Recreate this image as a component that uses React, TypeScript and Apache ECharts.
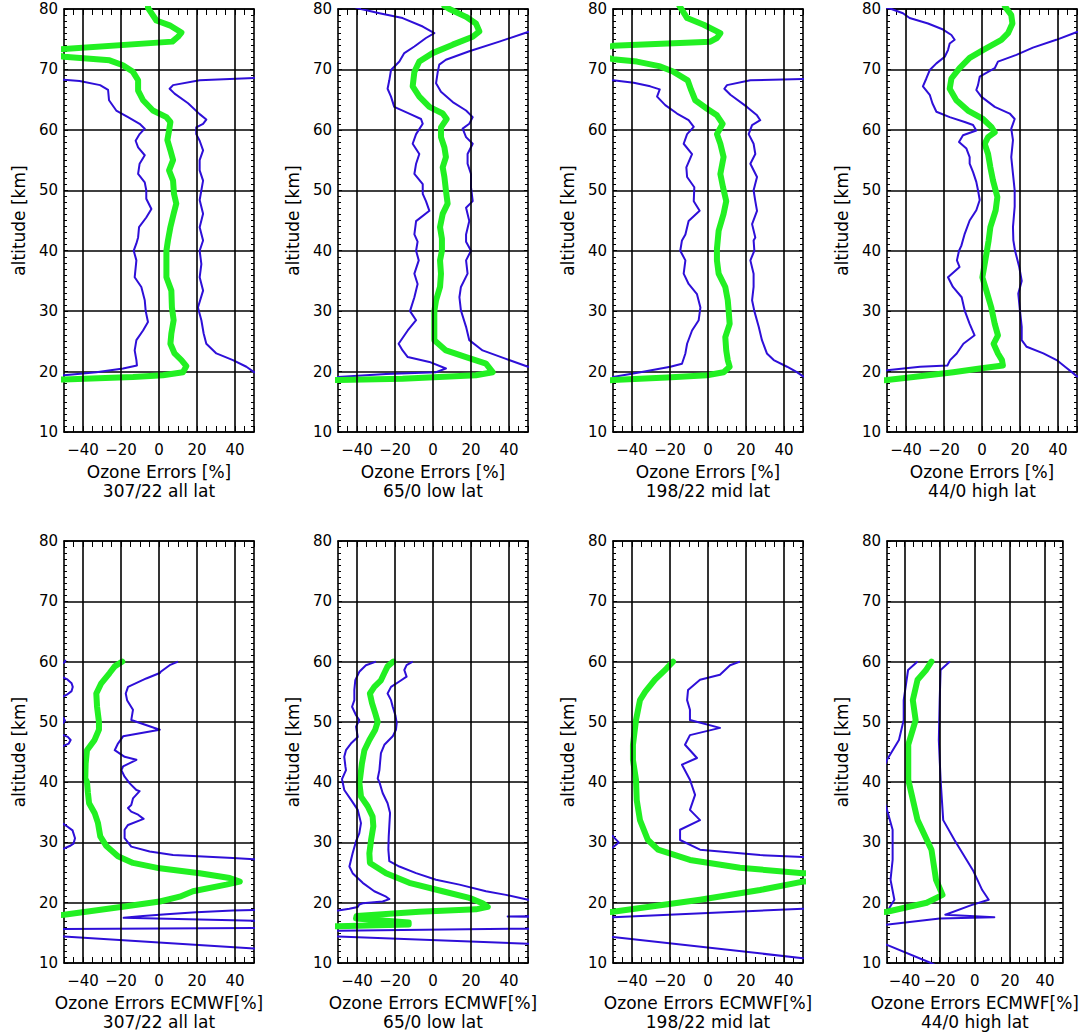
import React, { useEffect, useRef } from "react";
import * as echarts from "echarts";

// ---- axis labels / titles ----
const PANEL_TITLES = ["307/22 all lat", "65/0 low lat", "198/22 mid lat", "44/0 high lat"];
const TOP_XNAME = "Ozone Errors [%]";
const BOTTOM_XNAME = "Ozone Errors ECMWF[%]";
const Y_NAME = "altitude [km]";
const X_LABELS = [-40, -20, 0, 20, 40];
const X_GRID = [-40, -20, 0, 20, 40];

// ---- profiles: [error %, altitude km] ----
// Top row: retrieval errors
const allLatGreen = [[-5.8,80.4],[-5.8,80.2],[-1.4,78.1],[5.6,77.3],[11.8,76.1],[10,75.4],[7,74.6],[-50,73.4],[-65,73.0],[-50,72.1],[-26,71.5],[-19,70.7],[-13.7,69.6],[-11,68.2],[-11,66.5],[-8.4,64.9],[-3.2,63.2],[3.9,62.1],[6,61.3],[5.3,59.9],[4.4,58.3],[6,56.6],[7.4,55],[5.3,53.3],[7.4,51.6],[7.9,49.4],[9.1,47.8],[7.7,46.1],[6,43.9],[4.7,41.7],[3.9,40],[3.9,38.4],[3.9,35.6],[6.5,33.4],[6.8,30.6],[7.7,28.5],[6.5,26.3],[6,24.6],[8.2,23],[11.8,21.9],[14.4,20.9],[12.6,19.9],[2.1,19.4],[-13.7,19.1],[-50,18.7],[-70,18.5]];
const allLatBlueLo = [[-60,68.5],[-50,68.3],[-41.8,68.1],[-31,67.4],[-26.8,66.6],[-26.3,64.9],[-22.5,63.2],[-16.3,62.1],[-10.2,61],[-7.5,60.2],[-10.2,59.3],[-12.3,58.2],[-11,57.1],[-7.5,55.8],[-10.2,54.4],[-11,52.7],[-7.5,51.3],[-6.7,50],[-6.7,48.6],[-4,46.9],[-6.7,45.5],[-10.5,43.9],[-11,42.2],[-11.9,41.2],[-13.3,40],[-11.9,38.4],[-12.8,35.6],[-9.3,34],[-7.5,31.8],[-7,30],[-5.8,28.2],[-8.4,26.8],[-11.9,25.2],[-12.8,23.5],[-11.9,21.9],[-11.6,21],[-18.9,20.5],[-33,19.9],[-50,19.4],[-60,19.2]];
const allLatBlueHi = [[60,68.7],[50,68.6],[21.4,68.2],[7.4,67.4],[5.6,66.8],[8.2,66],[15.3,64.4],[21.4,62.6],[24.9,61.7],[23.2,61],[19.6,60.4],[19.6,59.3],[21.4,58.2],[23.2,56.6],[21.4,55],[21.4,53.3],[23.2,51.6],[22.3,50],[21.4,48.4],[23.2,46.1],[21.4,43.9],[23.2,41.7],[21.4,40],[22.3,37.8],[21.4,35.6],[23.2,33.4],[20.5,30.6],[22.3,28.5],[23.5,26.3],[24.9,24.6],[30.2,23],[38.9,21.9],[46,20.8],[50,19.9],[60,19.5]];

const lowLatBlueLo = [[-42,80.4],[-37.9,80],[-28.2,79.3],[-16,78.5],[-5.4,77.1],[0.7,76],[-3.7,75.2],[-9.8,73.8],[-15.1,72.7],[-17.7,71.3],[-22.1,69.9],[-23,68.2],[-23.9,66.8],[-22.1,65.5],[-20.4,63.8],[-12.5,62.7],[-6.3,61.8],[-5.4,61],[-8.9,59.3],[-10.7,57.7],[-7.2,56],[-8.9,54.4],[-9.8,52.7],[-5.4,51],[-5.4,49.4],[-3.7,48.2],[-1.9,46.6],[-8.9,44.9],[-9.8,42.7],[-8.1,41.5],[-8.9,40],[-7.5,38.4],[-9.8,36.2],[-8.1,34.5],[-9.8,32.3],[-12.1,30],[-8.9,28.5],[-13.3,26.8],[-18.1,24.6],[-16,23.5],[-13.3,22.4],[-1.9,21.6],[6.8,20.5],[1.6,19.9],[-24.7,19.6],[-50,19.1],[-60,19]];
const lowLatGreen = [[6,80.5],[8.6,80],[17.4,78.7],[22.6,77.6],[24.4,76.3],[20.9,75.4],[10.4,74.1],[-0.2,72.7],[-7.2,71.3],[-9.8,69.6],[-10.7,67.2],[-7.2,65.5],[-1.9,63.8],[5.1,62.7],[7.2,61.8],[4.2,60.4],[4.2,58.8],[6,57.1],[6.8,55.5],[5.1,53.8],[6,52.2],[6.8,50],[7.7,47.8],[5.1,46.1],[3.7,43.9],[4.7,42],[4.7,40],[3.7,38.4],[4.2,36.2],[3.7,34],[1.6,31.8],[0.7,30],[0.7,27.4],[0.7,25.2],[6.8,23.5],[17.4,22.4],[27.9,21.3],[31.4,19.9],[22.6,19.4],[-16,18.8],[-50,18.6],[-70,18.5]];
const lowLatBlueHi = [[60,76.7],[50,76.2],[34.9,74.6],[19.1,73],[6.8,71.6],[3.3,70.8],[2.5,69.6],[1.6,67.7],[4.2,66.3],[10.4,64.6],[17.4,63.2],[20.9,62.1],[19.1,61],[15.6,60.2],[17.4,58.8],[20.9,57.7],[18.2,56],[18.2,54.4],[20,52.7],[20,50.5],[20.9,48.2],[17.4,47.1],[19.1,44.9],[17.4,42.7],[17.4,41.5],[20,40],[17.4,38.4],[18.2,36.2],[14.7,34],[13.9,32.3],[14.7,30.1],[17.4,27.4],[19.1,25.2],[26.1,23.5],[38.4,22.1],[50,20.8],[60,20.4]];

const midLatGreen = [[-15,80.5],[-14.2,80.1],[-11,78.5],[-2.3,77.4],[6.5,76],[4.7,75.2],[1.2,74.6],[-50,73.9],[-65,73],[-50,71.7],[-37.4,71.3],[-25.1,70.5],[-18.1,69.6],[-10.7,68.2],[-8.9,66.6],[-6.7,64.9],[-0.5,63.5],[4.7,62.4],[7.7,61],[4.7,59.3],[6.5,57.7],[8.2,55.5],[6.5,52.7],[7.9,50.5],[9.6,48.2],[8.2,46.1],[5.6,43.3],[4.7,40.3],[4.7,38.4],[5.6,36.2],[9.1,34],[10.4,31.8],[10.9,30],[11.4,27.9],[9.1,25.7],[9.6,23.5],[10.4,21.9],[11.4,20.8],[8.2,19.9],[-0.5,19.4],[-21.6,19],[-50,18.6],[-70,18.4]];
const midLatBlueLo = [[-60,68.3],[-50,68.2],[-39.1,67.8],[-30.4,67.2],[-25.4,66.7],[-26.8,65.5],[-22.5,64.1],[-16.3,62.7],[-10.2,61.6],[-7.5,60.5],[-11,59.3],[-12.8,57.7],[-8.4,56],[-11.4,53.8],[-11,52.2],[-7.2,50.5],[-7.5,48.2],[-4.4,46.6],[-10.2,44.9],[-11.9,42.7],[-13.7,41.7],[-14.6,40],[-11.9,38.4],[-12.8,36.2],[-10.2,34.5],[-5.8,32.8],[-4,30.6],[-4.9,28.5],[-8.4,26.8],[-11,24.6],[-11.9,23],[-13.7,21.3],[-19.8,20.8],[-35.6,19.9],[-50,19.1],[-60,18.9]];
const midLatBlueHi = [[60,68.5],[50,68.4],[22.3,68.2],[10,67.4],[8.6,66.8],[11.8,65.8],[20.5,63.8],[25.8,62.4],[27.5,61.6],[23.2,60.8],[21.4,59.3],[24,57.7],[24.9,56],[22.3,54.4],[25.8,52.2],[24,50],[24.9,48.2],[25.8,46.6],[23.2,44.4],[24.9,42.2],[24,41.7],[24.4,40],[22.3,38.4],[24,36.2],[24,34],[23.2,31.8],[24.4,30],[26.7,27.4],[28.4,25.2],[31,23],[34.6,21.9],[41.6,20.8],[46.8,19.9],[50,19.2],[60,18.9]];

const highLatBlueLo = [[-55,80.6],[-47.7,80],[-41.6,79.3],[-38.1,78.5],[-28.4,77.6],[-20.5,76.6],[-16.1,75.7],[-14.4,74.9],[-17,74.3],[-17.9,73.2],[-19.6,72.1],[-24,71],[-27.5,69.9],[-29.3,68.5],[-31.1,67.2],[-27.5,65.8],[-26.1,64.4],[-24,63],[-17,62.1],[-9.1,61.3],[-4.7,60.8],[-3,59.9],[-10,59.1],[-12.1,58],[-8.2,56.9],[-6.5,55.5],[-6.5,54.4],[-4.7,53],[-3,51.4],[-2.1,50],[-1.2,48.4],[-3,46.7],[-6.5,45],[-9.1,42.8],[-10.9,40.8],[-12.1,40],[-13.2,38.4],[-11.8,37.3],[-17.9,35.6],[-15.3,34],[-10.7,32.3],[-9.1,30.1],[-6.5,27.9],[-3.9,26],[-9.8,24.6],[-13.3,23],[-16.8,21.9],[-18.2,21],[-32.6,20.8],[-50,20.2],[-60,20]];
const highLatGreen = [[12,80.5],[12.8,80.1],[15.4,79],[16,77.6],[13.7,76],[10.2,74.9],[0.5,73.2],[-6.5,71.9],[-11.8,70.2],[-16.1,68.5],[-17,66.8],[-13.5,64.9],[-7.4,63.2],[0.5,61.8],[4.9,60.5],[6.7,59.6],[3.2,58.8],[1.4,57.7],[3.2,56],[4.4,53.8],[5.8,51.6],[8.1,48.9],[7.2,46.7],[4.4,43.9],[3.5,41.7],[2.6,40],[1.4,37.8],[0.2,35.6],[2.3,33.4],[4.9,30.6],[6.7,27.9],[8.4,26],[6.1,24.6],[8.4,23],[10.5,21.9],[11,21],[-1.2,20.5],[-15.1,19.9],[-36.1,19.1],[-50,18.6],[-70,18.3]];
const highLatBlueHi = [[60,76.7],[50,76.2],[39.1,74.9],[26.8,73.6],[18.1,72.4],[8.4,71.3],[6.7,70.2],[-1.2,68.8],[-2.1,67.4],[-3,66.6],[-0.4,65.5],[6.7,63.8],[14.6,62.7],[17.2,61.8],[16.3,61],[15.4,60.2],[16.3,58.3],[15.4,55.5],[16.3,52.7],[17.2,50],[17.2,47.3],[16.3,43.9],[16.5,41.7],[17.4,40],[19.6,37.3],[20.9,35],[19.1,32.9],[20,30],[20.9,27.4],[20.9,25.2],[23.5,24.1],[32.3,23],[39.3,21.9],[43.7,20.8],[48.1,19.7],[50,19.2],[60,18.8]];

// Bottom row: differences against ECMWF
const allLatEcGreen = [[-19.3,60],[-23.3,59.2],[-26,58.1],[-30.4,56.4],[-33,54.7],[-32.6,52.5],[-31.6,50],[-31.6,48.7],[-33.9,47],[-37.9,45.3],[-38.6,43.1],[-38.8,40.6],[-37.9,40],[-37.4,38.2],[-36.8,36.5],[-33.9,34.9],[-32.1,33.2],[-30.9,31],[-27.7,29.4],[-21.6,27.7],[-13.7,26.6],[0.4,25.7],[21.4,24.9],[37.2,24.1],[42.5,23.5],[35.4,23],[17.9,21.9],[10.9,21],[0.4,20.2],[-17.2,19.4],[-36.5,18.6],[-50,18],[-70,17.5]];
const allLatEcBlueHi = [[10,60],[5.6,59.4],[0.9,58.3],[0.4,58.1],[-6.7,57.2],[-16.3,55.8],[-17.5,54.7],[-16.8,53.6],[-13.7,52],[-14.6,50.3],[0.4,48.7],[-18.9,47.6],[-21.6,46.4],[-23.3,45.3],[-18.1,44.2],[-11.9,43.7],[-18.9,42.6],[-19.8,42],[-18.1,40.9],[-15.4,39.8],[-11.9,38.7],[-10.2,38.5],[-13.7,37.3],[-14.6,36.2],[-16.3,35.7],[-14.6,35.1],[-11,34.6],[-8.1,33.9],[-16.3,32.9],[-18.1,32.1],[-18.1,30.7],[-14.6,29.3],[-4.9,28.5],[7.4,27.9],[38.9,27.4],[50,27.2],[80,27],[80,19.2],[50,18.8],[38.9,18.7],[19.6,18.4],[3.9,18.1],[-8.4,17.8],[-18.6,17.5],[50,17.0],[80,16.8],[80,15.85],[50,15.79],[-50,15.62],[-80,15.55],[-80,15],[-50,14.4],[50,12.4],[80,11.8]];
const allLatEcBlueLo = [[-49.2,60.3],[-49.6,59.9],[-53,59.4],[-56,58.5],[-52,57.6],[-48.5,57.1],[-46,56.4],[-45.4,55.8],[-46,55.1],[-48.5,54.5],[-51,54.1],[-55,53],[-53,51.5],[-50.5,50.7],[-49.5,50.2],[-50.5,49.8],[-54,49],[-52,48],[-48,47.5],[-46.5,47],[-47.5,46.4],[-50.5,46],[-56,44],[-60,40],[-58,36],[-53,33.6],[-49,32.8],[-45.5,32],[-44.2,30.7],[-45,29.8],[-47,29.4],[-50,29],[-55,28.5],[-75,27]];

const lowLatEcBlueLo = [[-30,60],[-35.3,59.4],[-38.8,58.3],[-40.9,56.9],[-41.4,55.3],[-41.4,53.6],[-42.6,52.5],[-40.5,51.1],[-38.8,50.3],[-40.5,49.2],[-39.6,47.5],[-43.2,46.4],[-45.8,45.3],[-46.7,44.2],[-46.1,42.6],[-45.8,42],[-47.9,40.5],[-46.7,38.7],[-43.2,37.1],[-39.6,35.4],[-37.9,33.2],[-38.8,31.5],[-40.5,30.2],[-42.3,28.2],[-44,26],[-42.3,24.9],[-37,23.3],[-30.9,21.9],[-24.7,21],[-23,20.6],[-26.5,20.2],[-37,19.9],[-38.8,19.7],[-39.6,19.3],[-44,19],[-50,18.7],[-60,18.6]];
const lowLatEcGreen = [[-20.9,60],[-23.9,59.2],[-25.6,58.1],[-27.4,56.9],[-30.9,55.8],[-33.2,54.7],[-32.1,53.1],[-30.4,51.4],[-29.1,50],[-30.4,48.7],[-33.5,47],[-36.1,45.3],[-37.4,43.1],[-38.4,40.6],[-38.8,40],[-37.9,37.6],[-34.4,36],[-31.8,34.3],[-31.4,32.7],[-32.6,30.4],[-33.5,28.2],[-33.2,26.6],[-24.7,24.9],[-12.5,23.3],[5.1,21.9],[19.1,20.8],[26.1,19.9],[28.8,19.3],[22.6,18.9],[-7.2,18.5],[-40.2,17.8],[-40.5,17.4],[-12.8,16.7],[-12.8,16.4],[-50,16.1],[-70,16.0]];
const lowLatEcBlueHi = [[-10.7,60],[-13.9,59.4],[-15.1,58.6],[-13.9,57.5],[-17.7,56.7],[-22.1,55.8],[-23.9,54.7],[-22.1,53.6],[-21.2,52.5],[-19.8,51.1],[-19.1,49.8],[-19.5,48.7],[-21.2,47.6],[-25.6,46.2],[-27.4,44.8],[-27.9,43.1],[-28.2,42],[-29.1,40.6],[-28.2,40],[-26.5,38.2],[-23.9,36.5],[-22.6,34.9],[-23,32.7],[-23.3,31],[-23.5,28.8],[-23,26.9],[-17.7,26],[-8.9,24.9],[1.6,23.8],[13.9,23],[27.9,21.9],[38.4,21.3],[50,20.5],[80,20],[80,18],[55,17.78],[39.3,17.72],[55,17.64],[80,17.4],[80,15.8],[50,15.7],[-50,15.35],[-80,15.3],[-80,14.6],[-50,14.4],[50,13.2],[80,12.8]];

const midLatEcGreen = [[-18.4,60],[-22,58.8],[-27.9,57],[-33,55],[-35.8,53.6],[-37.9,50.3],[-39.5,46.2],[-39.5,43.7],[-37.9,40.4],[-37.5,37],[-35.8,33.7],[-31.6,30.4],[-26.3,28.8],[-9.5,27.1],[16.8,25.8],[50,24.9],[80,24.4],[80,23.8],[50,23.5],[27.4,22.1],[-4.2,20.5],[-27,19.5],[-50,18.5],[-70,18]];
const midLatEcBlueHi = [[16.8,60],[11.6,59.4],[6.3,57.8],[-4.2,57],[-10.5,55.3],[-11,53.6],[-9.5,52],[-9.5,50.3],[6.3,49],[-9.5,47.8],[-12.1,46.2],[-5.8,44],[-13.7,42.9],[-9.5,40.4],[-6.8,37.9],[-9.5,35.4],[-4.2,33.7],[-14.7,32.1],[-14.7,30.4],[-4.2,28.8],[27.4,27.9],[50,27.6],[80,27.3],[80,19.3],[50,19.0],[-50,17.6],[-80,17.2],[-80,14.8],[-50,14.3],[50,10.8],[80,10]];
const midLatEcBlueLo = [[-60,33],[-50,31],[-47,30],[-50,29.2],[-60,27]];

const highLatEcGreen = [[-24.7,60],[-28,58.5],[-32.6,57],[-35.3,53.6],[-33.7,50.3],[-37.9,46.2],[-37.9,40.4],[-32.6,33.7],[-24.7,28.8],[-22.1,23.8],[-18.4,21.3],[-27.4,20],[-50,18.5],[-70,18]];
const highLatEcBlueLo = [[-32.6,60],[-38,58.6],[-40.5,53.6],[-40.5,50.3],[-43.2,47],[-50,43.7],[-55,40],[-50,35.4],[-46.8,32.1],[-46.8,27.1],[-48,23.8],[-45.8,20.5],[-50,18.5],[-60,18]];
const highLatEcBlueHi = [[-14.2,60],[-19.5,58.6],[-20,53.6],[-20.5,47],[-19.5,40.4],[-18,33.7],[-11.6,30.4],[-1.1,25.4],[4.2,22.1],[7.9,20.5],[-2,19.6],[-16.8,18],[11.1,17.6],[-20,17.4],[-60,16],[-60,14],[-50,13],[-25,10],[-10,8]];

const PANELS = [
  { title: PANEL_TITLES[0], xName: TOP_XNAME, blue: [allLatBlueLo, allLatBlueHi], green: allLatGreen },
  { title: PANEL_TITLES[1], xName: TOP_XNAME, blue: [lowLatBlueLo, lowLatBlueHi], green: lowLatGreen },
  { title: PANEL_TITLES[2], xName: TOP_XNAME, blue: [midLatBlueLo, midLatBlueHi], green: midLatGreen },
  { title: PANEL_TITLES[3], xName: TOP_XNAME, blue: [highLatBlueLo, highLatBlueHi], green: highLatGreen },
  { title: PANEL_TITLES[0], xName: BOTTOM_XNAME, blue: [allLatEcBlueLo, allLatEcBlueHi], green: allLatEcGreen },
  { title: PANEL_TITLES[1], xName: BOTTOM_XNAME, blue: [lowLatEcBlueLo, lowLatEcBlueHi], green: lowLatEcGreen },
  { title: PANEL_TITLES[2], xName: BOTTOM_XNAME, blue: [midLatEcBlueLo, midLatEcBlueHi], green: midLatEcGreen },
  { title: PANEL_TITLES[3], xName: BOTTOM_XNAME, blue: [highLatEcBlueLo, highLatEcBlueHi], green: highLatEcGreen },
];

const FONT = "DejaVu Sans";
const BLUE = "#2e0fd8";
const GREEN = "#22f022";
const LEFTS = [64, 338, 613, 887];
const TOPS = [9, 541];
const HEIGHTS = [423, 422];
const PANEL_W = 190;

const fmtSigned = (v: number) => (v < 0 ? "\u2212" + Math.abs(v) : String(v));

function buildOption() {
  const grid: any[] = [];
  const xAxis: any[] = [];
  const yAxis: any[] = [];
  const series: any[] = [];
  const frame = { show: true, onZero: false, lineStyle: { color: "#000", width: 1.6 } };

  PANELS.forEach((p, i) => {
    const row = i < 4 ? 0 : 1;
    const col = i % 4;
    grid.push({ left: LEFTS[col], top: TOPS[row], width: PANEL_W, height: HEIGHTS[row], containLabel: false });

    const xBase = {
      type: "value", gridIndex: i, min: -50, max: 50, interval: 10,
      axisLine: frame,
      axisTick: { show: true, inside: true, length: 6, lineStyle: { color: "#000", width: 1 } },
      minorTick: { show: true, splitNumber: 2, length: 6, lineStyle: { color: "#000", width: 1 } },
      splitLine: { show: false },
    };
    xAxis.push({
      ...xBase, position: "bottom",
      axisLabel: {
        show: true, margin: 10, color: "#000", fontFamily: FONT, fontSize: 15,
        formatter: (v: number) => (X_LABELS.includes(v) ? fmtSigned(v) : ""),
      },
      name: p.xName + "\n" + p.title, nameLocation: "middle", nameGap: 30,
      nameTextStyle: { color: "#000", fontFamily: FONT, fontSize: 17, lineHeight: 19 },
    });
    xAxis.push({ ...xBase, position: "top", axisLabel: { show: false } });

    const yBase = {
      type: "value", gridIndex: i, min: 10, max: 80, interval: 10,
      axisLine: frame,
      axisTick: { show: true, inside: true, length: 4, lineStyle: { color: "#000", width: 1 } },
      minorTick: { show: true, splitNumber: 10, length: 3, lineStyle: { color: "#000", width: 1 } },
    };
    yAxis.push({
      ...yBase, position: "left",
      splitLine: { show: true, lineStyle: { color: "#000", width: 1.6 } },
      axisLabel: { show: true, margin: 6, color: "#000", fontFamily: FONT, fontSize: 15 },
      name: Y_NAME, nameLocation: "middle", nameGap: 37,
      nameTextStyle: { color: "#000", fontFamily: FONT, fontSize: 17 },
    });
    yAxis.push({ ...yBase, position: "right", splitLine: { show: false }, axisLabel: { show: false } });

    const xi = 2 * i;
    // vertical grid lines
    series.push({
      type: "line", xAxisIndex: xi, yAxisIndex: xi, data: [], silent: true, z: 1,
      markLine: {
        silent: true, symbol: ["none", "none"], label: { show: false },
        lineStyle: { color: "#000", width: 1.6, type: "solid" },
        data: X_GRID.map((v) => ({ xAxis: v })),
      },
    });
    p.blue.forEach((d) =>
      series.push({
        type: "line", xAxisIndex: xi, yAxisIndex: xi, data: d, showSymbol: false, symbol: "none",
        silent: true, clip: true, z: 3,
        lineStyle: { color: BLUE, width: 2, join: "round" },
      })
    );
    series.push({
      type: "line", xAxisIndex: xi, yAxisIndex: xi, data: p.green, showSymbol: false, symbol: "none",
      silent: true, clip: true, z: 4,
      lineStyle: { color: GREEN, width: 6, join: "round", cap: "round" },
    });
  });

  return { animation: false, backgroundColor: "#fff", grid, xAxis, yAxis, series };
}

export default function App() {
  const ref = useRef<HTMLDivElement>(null);
  useEffect(() => {
    if (!ref.current) return;
    const chart = echarts.init(ref.current, undefined, { renderer: "svg" });
    chart.setOption(buildOption() as any);
    return () => chart.dispose();
  }, []);
  return (
    <div
      ref={ref}
      style={{ position: "absolute", left: 0, top: 0, width: 1081, height: 1034, background: "#fff" }}
    />
  );
}
